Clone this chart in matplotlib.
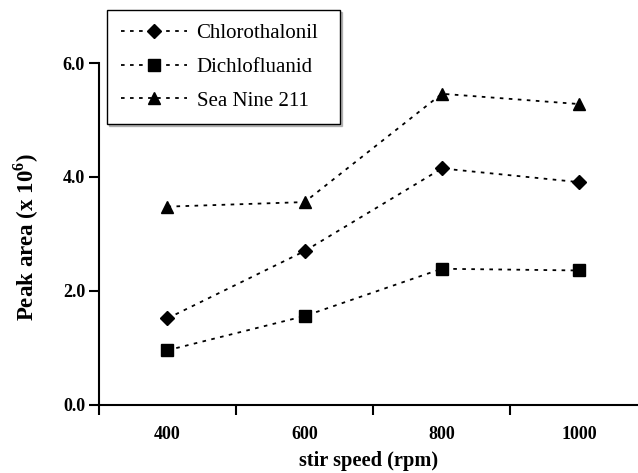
import matplotlib
matplotlib.use("Agg")
import matplotlib.pyplot as plt

plt.rcParams['font.family'] = ['Liberation Serif', 'DejaVu Serif']
plt.rcParams['mathtext.fontset'] = 'custom'
plt.rcParams['mathtext.rm'] = 'Liberation Serif:bold'
plt.rcParams['mathtext.bf'] = 'Liberation Serif:bold'

speeds = ["400", "600", "800", "1000"]
chlorothalonil = [1.52, 2.70, 4.15, 3.91]
dichlofluanid = [0.96, 1.56, 2.39, 2.36]
sea_nine = [3.48, 3.56, 5.46, 5.28]
y_ticks = [0.0, 2.0, 4.0, 6.0]

fig = plt.figure(figsize=(6.38, 4.73), dpi=100)
ax = fig.add_axes([0.155, 0.1438, 0.845, 0.723])

x = list(range(len(speeds)))
ls = (0, (2, 3))
ax.plot(x, chlorothalonil, linestyle=ls, color='black', lw=1.3, marker='D', ms=7, label='Chlorothalonil')
ax.plot(x, dichlofluanid, linestyle=ls, color='black', lw=1.3, marker='s', ms=8, label='Dichlofluanid')
ax.plot(x, sea_nine, linestyle=ls, color='black', lw=1.3, marker='^', ms=9, label='Sea Nine 211')

ax.set_xlim(-0.5, 3.43)
ax.set_ylim(0, 6)
ax.set_xticks([i - 0.5 for i in x])
ax.set_xticklabels([])
ax.set_xticks(x, minor=True)
ax.set_xticklabels(speeds, minor=True, fontweight='bold', fontsize=13)
ax.tick_params(axis='x', which='major', direction='out', length=7, width=1.5)
ax.tick_params(axis='x', which='minor', length=0, pad=15)
ax.set_yticks(y_ticks)
ax.set_yticklabels([f"{v:.1f}" for v in y_ticks], fontweight='bold', fontsize=13)
ax.tick_params(axis='y', direction='out', length=7, width=1.5, pad=3)

for s in ['top', 'right']:
    ax.spines[s].set_visible(False)
for s in ['left', 'bottom']:
    ax.spines[s].set_linewidth(1.5)

ax.set_xlabel('stir speed (rpm)', fontweight='bold', fontsize=14.7)
ax.xaxis.set_label_coords(0.5, -0.135)
ax.set_ylabel(r'Peak area (x 10$^{\mathbf{6}}$)', fontweight='bold', fontsize=16.5)
ax.yaxis.set_label_coords(-0.108, 0.49)

leg = fig.legend(loc='upper left', bbox_to_anchor=(0.1677, 0.740, 233 / 638, 0.239),
                 mode='expand', fontsize=15,
                 handlelength=3.2, frameon=True, fancybox=False,
                 shadow={'ox': 1.5, 'oy': -1.5, 'color': '0.5'},
                 borderpad=0.65, labelspacing=0.68, handletextpad=0.45, borderaxespad=0)
leg.get_frame().set_edgecolor('black')
leg.get_frame().set_linewidth(1.0)

fig.savefig('out.png', dpi=100)
